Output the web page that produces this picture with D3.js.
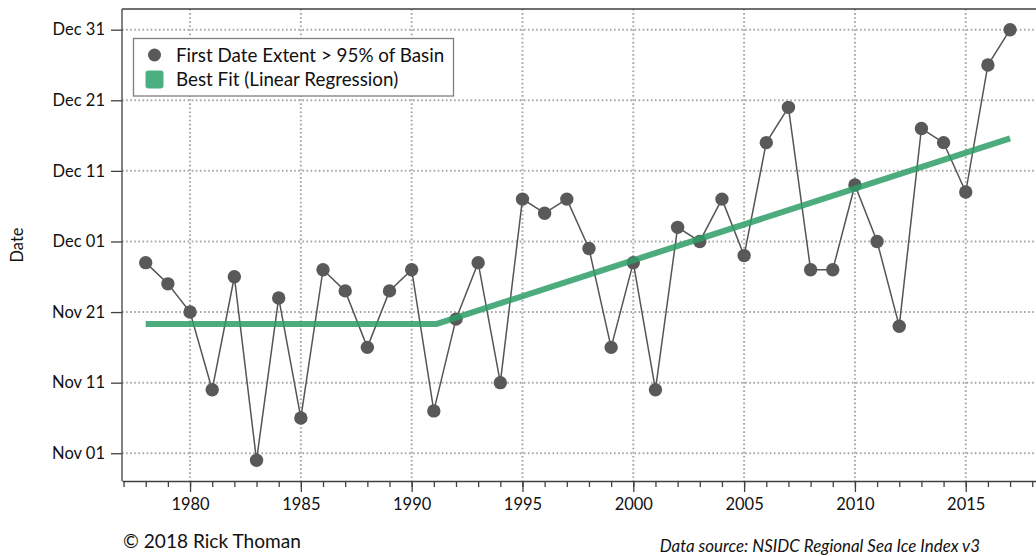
<!DOCTYPE html>
<html>
<head>
<meta charset="utf-8">
<script src="https://cdn.jsdelivr.net/npm/d3@7"></script>
<style>
  html, body { margin: 0; padding: 0; background: #fff; }
  svg { display: block; font-family: Lato, "Open Sans", sans-serif; }
</style>
</head>
<body>
<svg id="chart" width="1036" height="556"></svg>
<script>
// ---- data (days after Nov 01) ----
const years = [1978,1979,1980,1981,1982,1983,1984,1985,1986,1987,1988,1989,1990,1991,1992,1993,1994,1995,1996,1997,1998,1999,2000,2001,2002,2003,2004,2005,2006,2007,2008,2009,2010,2011,2012,2013,2014,2015,2016,2017];
const firstDateDays = [27,24,20,9,25,-1,22,5,26,23,15,23,26,6,19,27,10,36,34,36,29,15,27,9,32,30,36,28,44,49,26,26,38,30,18,46,44,37,55,60];
const fitYears = [1978, 1991.1, 2017];
const fitDays = [18.3, 18.3, 44.6];
const yTickDays = [0,10,20,30,40,50,60];
const yTickLabels = ["Nov 01","Nov 11","Nov 21","Dec 01","Dec 11","Dec 21","Dec 31"];
const xTickYears = d3.range(1977, 2019);
const xMajorYears = [1980,1985,1990,1995,2000,2005,2010,2015];
const legendLabels = ["First Date Extent > 95% of Basin", "Best Fit (Linear Regression)"];

const svg = d3.select("#chart");
const L = 122, R = 1036, T = 9, B = 481;
const x = d3.scaleLinear().domain([1976.93, 2018.17]).range([L, R]);
const y = d3.scaleLinear().domain([-3.93, 62.93]).range([B, T]);

const gridColor = "#a6a6a6";
svg.append("g").selectAll("line").data(yTickDays).join("line")
  .attr("x1", L).attr("x2", R).attr("y1", d => y(d)).attr("y2", d => y(d))
  .attr("stroke", gridColor).attr("stroke-width", 2).attr("stroke-dasharray", "1.6,2.5");
svg.append("g").selectAll("line").data(xMajorYears).join("line")
  .attr("x1", d => x(d)).attr("x2", d => x(d)).attr("y1", T).attr("y2", B)
  .attr("stroke", gridColor).attr("stroke-width", 2).attr("stroke-dasharray", "1.6,2.5");

svg.append("line").attr("x1", L).attr("x2", R).attr("y1", T).attr("y2", T)
  .attr("stroke", "#404040").attr("stroke-width", 1.3);

const yAxis = d3.axisLeft(y).tickValues(yTickDays)
  .tickFormat((d, i) => yTickLabels[i]).tickSize(11).tickPadding(6).tickSizeOuter(0);
const gy = svg.append("g").attr("transform", `translate(${L},0)`).call(yAxis);
gy.select(".domain").attr("stroke", "#404040").attr("stroke-width", 1.3).attr("d", `M0,${T}V${B}`);
gy.selectAll(".tick line").attr("stroke", "#404040").attr("stroke-width", 1.3);
gy.selectAll(".tick text").attr("font-size", 16.5).attr("fill", "#111").attr("font-family", "Lato, sans-serif");

const gx = svg.append("g").attr("transform", `translate(0,${B})`);
gx.call(d3.axisBottom(x).tickValues(xTickYears).tickFormat("").tickSize(6).tickSizeOuter(0));
gx.select(".domain").attr("stroke", "#404040").attr("stroke-width", 1.3);
gx.selectAll(".tick line").attr("stroke", "#404040").attr("stroke-width", 1.3);
const gx2 = svg.append("g").attr("transform", `translate(0,${B})`);
gx2.call(d3.axisBottom(x).tickValues(xMajorYears).tickFormat(d3.format("d")).tickSize(11).tickPadding(6).tickSizeOuter(0));
gx2.select(".domain").remove();
gx2.selectAll(".tick line").attr("stroke", "#404040").attr("stroke-width", 1.3);
gx2.selectAll(".tick text").attr("font-size", 16.5).attr("fill", "#111").attr("font-family", "Lato, sans-serif");

svg.append("text").attr("transform", `translate(23,245) rotate(-90)`)
  .attr("text-anchor", "middle").attr("font-size", 16.5).attr("fill", "#111").text("Date");

const pts = years.map((yr, i) => [yr, firstDateDays[i]]);
svg.append("path").datum(pts)
  .attr("d", d3.line().x(d => x(d[0])).y(d => y(d[1])))
  .attr("fill", "none").attr("stroke", "#555").attr("stroke-width", 1.5);
svg.append("g").selectAll("circle").data(pts).join("circle")
  .attr("cx", d => x(d[0])).attr("cy", d => y(d[1])).attr("r", 6.7).attr("fill", "#595959");

const fit = fitYears.map((yr, i) => [yr, fitDays[i]]);
svg.append("path").datum(fit)
  .attr("d", d3.line().x(d => x(d[0])).y(d => y(d[1])))
  .attr("fill", "none").attr("stroke", "#2e9d67").attr("stroke-opacity", 0.85)
  .attr("stroke-width", 6).attr("stroke-linejoin", "round");

const lg = svg.append("g");
lg.append("rect").attr("x", 133.5).attr("y", 38.5).attr("width", 320).attr("height", 57.5)
  .attr("fill", "#fff").attr("stroke", "#7f7f7f").attr("stroke-width", 1.3);
lg.append("circle").attr("cx", 154.5).attr("cy", 55).attr("r", 6.5).attr("fill", "#595959");
lg.append("rect").attr("x", 145.5).attr("y", 70.5).attr("width", 18).attr("height", 18).attr("rx", 3)
  .attr("fill", "#4caf82");
lg.selectAll("text.lbl").data(legendLabels).join("text").attr("class", "lbl")
  .attr("x", 176).attr("y", (d, i) => 61.5 + i * 24.5)
  .attr("font-size", 18.8).attr("fill", "#111").text(d => d);

svg.append("text").attr("x", 123).attr("y", 548).attr("font-size", 19.1).attr("fill", "#111")
  .text("© 2018 Rick Thoman");
svg.append("text").attr("x", 980).attr("y", 552).attr("text-anchor", "end").attr("font-style", "italic")
  .attr("font-size", 16.9).attr("fill", "#111").text("Data source: NSIDC Regional Sea Ice Index v3");
</script>
</body>
</html>
